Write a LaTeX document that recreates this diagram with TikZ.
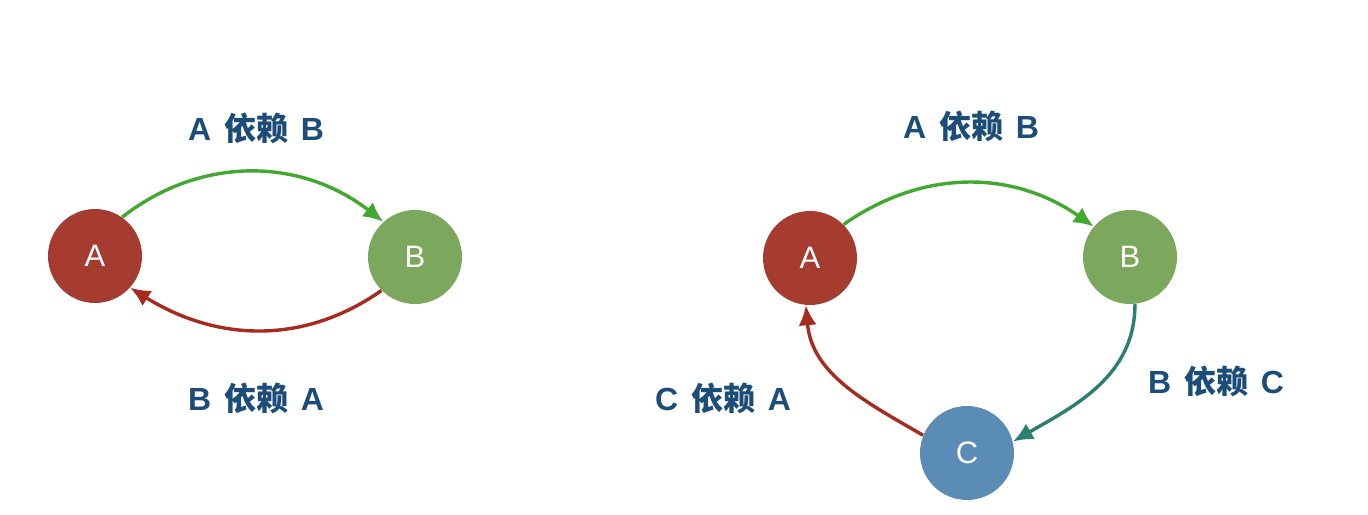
\documentclass[tikz,border=0pt]{standalone}
\usepackage{fontspec}
\setmainfont{Liberation Sans}
\newfontfamily\cjkbold{Noto Sans CJK SC Bold}
\usetikzlibrary{arrows.meta}
\definecolor{nodeRed}{HTML}{A63C30}
\definecolor{nodeGreen}{HTML}{7BA85C}
\definecolor{nodeBlue}{HTML}{5A8CB6}
\definecolor{arrGreen}{HTML}{42A832}
\definecolor{arrRed}{HTML}{A62A1E}
\definecolor{arrTeal}{HTML}{2A7F6E}
\definecolor{lblBlue}{HTML}{1C4C78}
\tikzset{
  vert/.style={circle, minimum size=47pt, inner sep=0pt, text=white, font=\fontsize{15.5}{15.5}\selectfont},
  lbl/.style={text=lblBlue, font=\bfseries\fontsize{16}{16}\selectfont, inner sep=0pt},
  dep/.style={line width=1.7pt, -{Latex[length=10pt,width=9pt]}}
}
\newcommand{\dl}[2]{#1\hspace{0.4em}{\cjkbold 依赖}\hspace{0.4em}#2}
\begin{document}
\begin{tikzpicture}[x=0.5pt,y=0.5pt]
\useasboundingbox (0,0) rectangle (1368,514);
% left diagram
\node[vert, fill=nodeRed] (a1) at (95,258) {A};
\node[vert, fill=nodeGreen] (b1) at (415,257) {B};
\node[lbl] (l1) at (256,386) {\dl{A}{B}};
\node[lbl] (l2) at (256,116) {\dl{B}{A}};
\draw[dep, arrGreen] (a1.55) to[out=38,in=142] (b1.132);
\draw[dep, arrRed] (b1.225) to[out=-145,in=-32] (a1.-42);
% right diagram
\node[vert, fill=nodeRed] (a2) at (810,256) {A};
\node[vert, fill=nodeGreen] (b2) at (1130,257) {B};
\node[vert, fill=nodeBlue] (c2) at (967,61) {C};
\node[lbl] (l3) at (971,388) {\dl{A}{B}};
\node[lbl] (l4) at (1216,133) {\dl{B}{C}};
\node[lbl] (l5) at (723,116) {\dl{C}{A}};
\draw[dep, arrGreen] (a2.45) to[out=35,in=145] (b2.140);
\draw[dep, arrTeal] (b2.-84) to[out=-90,in=30] (c2.14);
\draw[dep, arrRed] (c2.158) to[out=150,in=-85] (a2.-95);
\end{tikzpicture}
\end{document}
